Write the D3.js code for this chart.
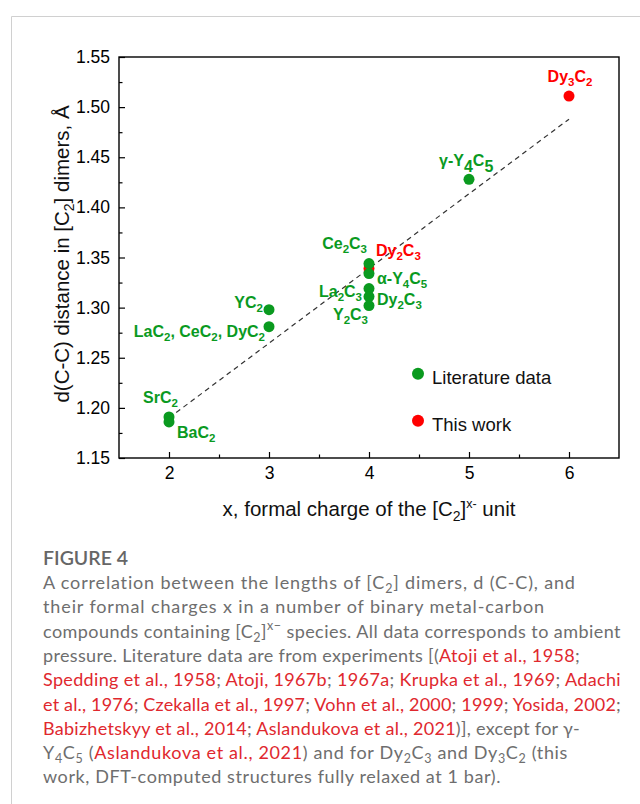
<!DOCTYPE html>
<html>
<head>
<meta charset="utf-8">
<script src="https://cdn.jsdelivr.net/npm/d3@7"></script>
<style>
  body { margin: 0; background: #fff; }
  svg { display: block; }
</style>
</head>
<body>
<div id="chart"></div>
<script>
// data
const litNames = ["SrC_2", "BaC_2", "YC_2", "LaC_2, CeC_2, DyC_2", "Ce_2C_3", "α-Y_4C_5", "La_2C_3", "Dy_2C_3", "Y_2C_3", "γ-Y_4C_5"];
const litX = [2, 2, 3, 3, 4, 4, 4, 4, 4, 5];
const litY = [1.191, 1.186, 1.298, 1.281, 1.344, 1.334, 1.319, 1.311, 1.302, 1.428];

const workNames = ["Dy_2C_3", "Dy_3C_2"];
const workX = [4, 6];
const workY = [1.339, 1.511];

const fitX = [2, 6];
const fitY = [1.19, 1.488];

const xTicks = [2, 3, 4, 5, 6];
const yTicks = [1.15, 1.20, 1.25, 1.30, 1.35, 1.40, 1.45, 1.50, 1.55];

const legendLabels = ["Literature data", "This work"];

const green = "#0a9a1f";
const red = "#ff0000";
const font = "'Liberation Sans', Arial, sans-serif";

let width = 640, height = 804;
let margin = { top: 57, right: 21, bottom: 346, left: 119 };
let w = width - margin.left - margin.right;
let h = height - margin.top - margin.bottom;

let svg = d3.select("#chart").append("svg")
    .attr("width", width)
    .attr("height", height)
    .attr("font-family", font);

// light page frame
svg.append("path")
    .attr("d", "M640,16.5H11.5V804")
    .attr("fill", "none")
    .attr("stroke", "#d0d0d0");

let x = d3.scaleLinear().domain([1.5, 6.5]).range([0, w]);
let y = d3.scaleLinear().domain([1.15, 1.55]).range([h, 0]);

let g = svg.append("g")
    .attr("transform", "translate(" + margin.left + "," + margin.top + ")");

// axes, ticks pointing inwards
let xAxis = g.append("g")
    .attr("transform", "translate(0," + h + ")")
    .call(d3.axisBottom(x).tickValues(xTicks).tickFormat(d3.format("d")).tickSize(-6).tickPadding(9));
let xMinor = g.append("g")
    .attr("transform", "translate(0," + h + ")")
    .call(d3.axisBottom(x).tickValues([2.5, 3.5, 4.5, 5.5]).tickSize(-3.5).tickFormat(""));
let yAxis = g.append("g")
    .call(d3.axisLeft(y).tickValues(yTicks).tickFormat(d3.format(".2f")).tickSize(-6).tickPadding(9));
let yMinor = g.append("g")
    .call(d3.axisLeft(y).tickValues(yTicks.slice(0, -1).map(v => v + 0.025)).tickSize(-3.5).tickFormat(""));

[xAxis, xMinor, yAxis, yMinor].forEach(a => {
    a.attr("font-size", 17.5).attr("font-family", font);
    a.select(".domain").remove();
    a.selectAll("line").attr("stroke", "#000").attr("stroke-width", 1.2);
    a.selectAll("text").attr("fill", "#000");
});
xMinor.selectAll("text").remove();
yMinor.selectAll("text").remove();

g.append("rect")
    .attr("width", w).attr("height", h)
    .attr("fill", "none")
    .attr("stroke", "#000")
    .attr("stroke-width", 1.4);

// fit line
g.append("line")
    .attr("x1", x(fitX[0])).attr("y1", y(fitY[0]))
    .attr("x2", x(fitX[1])).attr("y2", y(fitY[1]))
    .attr("stroke", "#333")
    .attr("stroke-width", 1.2)
    .attr("stroke-dasharray", "5,4");

// red drawn first, green on top (as in the original overlap at x=4)
g.selectAll(".work").data(workX).enter().append("circle")
    .attr("class", "work")
    .attr("cx", d => x(d))
    .attr("cy", (d, i) => y(workY[i]))
    .attr("r", 5.5)
    .attr("fill", red);
g.selectAll(".lit").data(litX).enter().append("circle")
    .attr("class", "lit")
    .attr("cx", d => x(d))
    .attr("cy", (d, i) => y(litY[i]))
    .attr("r", 5.5)
    .attr("fill", green);

// text with "_n" subscripts and "^x−" superscript
function richText(sel, str, subSize, shift, colour) {
    let parts = str.split(/(_\d|\^x−)/).filter(p => p);
    let pending = 0;
    parts.forEach(p => {
        let ts = sel.append("tspan");
        if (colour) ts.attr("fill", colour);
        if (p[0] === "_") {
            ts.attr("dy", pending + shift).attr("font-size", subSize).text(p.slice(1));
            pending = -shift;
        } else if (p[0] === "^") {
            ts.attr("dy", pending - shift * 1.8).attr("font-size", subSize).text(p.slice(1));
            pending = shift * 1.8;
        } else {
            if (pending) ts.attr("dy", pending);
            ts.text(p);
            pending = 0;
        }
    });
    return pending;
}

// label placement (offsets from the point, px)
let litOffsets = [[-26, -14, "start"], [8, 16, "start"], [-6, -1.5, "end"], [-4, 10, "end"], [-2, -15, "end"], [8, 10, "start"], [-7, 8.5, "end"], [8, 8.5, "start"], [-1, 14.5, "end"], [-30, -13, "start"]];
let workOffsets = [[7, -12.5, "start"], [1, -14, "middle"]];

function addLabels(names, xs, ys, offs, colour) {
    names.forEach((n, i) => {
        let t = g.append("text")
            .attr("x", x(xs[i]) + offs[i][0])
            .attr("y", y(ys[i]) + offs[i][1])
            .attr("text-anchor", offs[i][2])
            .attr("fill", colour)
            .attr("font-size", 16)
            .attr("font-weight", "bold");
        let big = n.indexOf("γ") === 0;
        richText(t, n, big ? 16 : 11.5, big ? 6 : 4);
    });
}
addLabels(litNames, litX, litY, litOffsets, green);
addLabels(workNames, workX, workY, workOffsets, red);

// legend
let legend = g.append("g").attr("transform", "translate(" + x(4.49) + "," + y(1.234) + ")");
legendLabels.forEach((l, i) => {
    legend.append("circle").attr("cx", 0).attr("cy", i * 47).attr("r", 6)
        .attr("fill", i === 0 ? green : red);
    legend.append("text").attr("x", 14).attr("y", i * 47 + 10.5)
        .attr("fill", "#111").attr("font-size", 18.5).text(l);
});

// axis titles
let xt = svg.append("text")
    .attr("x", margin.left + w / 2)
    .attr("y", 516)
    .attr("text-anchor", "middle")
    .attr("fill", "#111")
    .attr("font-size", 20.5);
xt.append("tspan").text("x, formal charge of the [C");
xt.append("tspan").attr("dy", 5).attr("font-size", 14).text("2");
xt.append("tspan").attr("dy", -5).text("]");
xt.append("tspan").attr("dy", -8).attr("font-size", 12.5).text("x-");
xt.append("tspan").attr("dy", 8).text(" unit");

let yt = svg.append("text")
    .attr("transform", "translate(69," + 254 + ") rotate(-90)")
    .attr("text-anchor", "middle")
    .attr("fill", "#111")
    .attr("font-size", 20.5);
yt.append("tspan").text("d(C-C) distance in [C");
yt.append("tspan").attr("dy", 5).attr("font-size", 14).text("2");
yt.append("tspan").attr("dy", -5).text("] dimers, Å");

// caption
const captionTitle = "FIGURE 4";
const captionLines = [
    [["A correlation between the lengths of [C_2] dimers, d (C-C), and", 0]],
    [["their formal charges x in a number of binary metal-carbon", 0]],
    [["compounds containing [C_2]^x− species. All data corresponds to ambient", 0]],
    [["pressure. Literature data are from experiments [(", 0], ["Atoji et al., 1958", 1], [";", 0]],
    [["Spedding et al., 1958", 1], ["; ", 0], ["Atoji, 1967b", 1], ["; ", 0], ["1967a", 1], ["; ", 0], ["Krupka et al., 1969", 1], ["; ", 0], ["Adachi", 1]],
    [["et al., 1976", 1], ["; ", 0], ["Czekalla et al., 1997", 1], ["; ", 0], ["Vohn et al., 2000", 1], ["; ", 0], ["1999", 1], ["; ", 0], ["Yosida, 2002", 1], [";", 0]],
    [["Babizhetskyy et al., 2014", 1], ["; ", 0], ["Aslandukova et al., 2021", 1], [")], except for γ-", 0]],
    [["Y_4C_5 (", 0], ["Aslandukova et al., 2021", 1], [") and for Dy_2C_3 and Dy_3C_2 (this", 0]],
    [["work, DFT-computed structures fully relaxed at 1 bar).", 0]]
];
// right ends of the caption lines in the original layout
const captionEnds = [576, 545, 621, 580, 621, 621, 580, 568, 501];
const capFont = "Lato, 'Open Sans', sans-serif";
const grey = "#6e6e6e";
svg.append("text")
    .attr("x", 43).attr("y", 565)
    .attr("fill", "#666")
    .attr("font-family", capFont)
    .attr("font-size", 19.5)
    .attr("font-weight", 600)
    .text(captionTitle);

captionLines.forEach((line, li) => {
    let t = svg.append("text")
        .attr("x", 43).attr("y", 589 + li * 24.3)
        .attr("fill", grey)
        .attr("font-family", capFont)
        .attr("font-size", 18);
    let pending = 0;
    line.forEach(seg => {
        let col = seg[1] ? "#e0282e" : grey;
        let first = t.append("tspan").attr("fill", col);
        if (pending) first.attr("dy", pending);
        pending = richText(first, seg[0], 12.5, 4);
    });
    // spread the letters a little so each line ends where it does in the original
    let natural = t.node().getComputedTextLength();
    let chars = line.map(s => s[0].replace(/[_^]/g, "")).join("").length;
    t.attr("letter-spacing", (captionEnds[li] - 43 - natural) / chars);
});
</script>
</body>
</html>
